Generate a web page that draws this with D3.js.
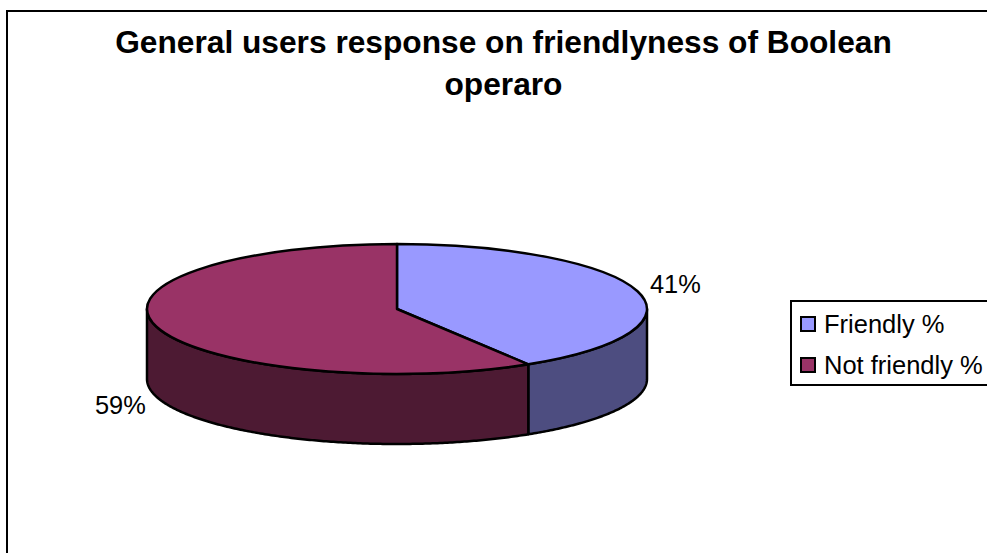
<!DOCTYPE html>
<html>
<head>
<meta charset="utf-8">
<script src="https://d3js.org/d3.v7.min.js"></script>
<style>
html, body { margin: 0; padding: 0; background: #fff; overflow: hidden; }
text { font-family: "Liberation Sans", Arial, sans-serif; fill: #000; }
</style>
</head>
<body>
<script>
const categories = ['Friendly %', 'Not friendly %']
const values = [41.2, 58.8]
const percentLabels = ['41%', '59%']
const titleLines = ['General users response on friendlyness of Boolean', 'operaro']
const topColors = ['#9999ff', '#993366']
const sideColors = ['#4d4d80', '#4d1a33']

let width = 987
let height = 553
let cx = 397
let cy = 309
let rx = 250
let ry = 65
let depth = 70
let lineW = 2.5

let svg = d3.select('body').append('svg')
    .attr('width', width)
    .attr('height', height)
    .style('display', 'block')

// chart frame, runs off the right and bottom of the picture
svg.append('rect')
    .attr('x', 7).attr('y', 11)
    .attr('width', width + 20).attr('height', height + 20)
    .attr('fill', '#fff').attr('stroke', '#000').attr('stroke-width', 2)

// title
svg.append('g').selectAll('text')
    .data(titleLines)
    .enter().append('text')
    .attr('x', 503.5)
    .attr('y', (d, i) => 53 + i * 42)
    .attr('text-anchor', 'middle')
    .attr('font-size', 31.7)
    .attr('font-weight', 'bold')
    .text(d => d)

let slices = d3.pie().sort(null)(values)

let ex = a => cx + rx * Math.sin(a)
let ey = a => cy - ry * Math.cos(a)

// side walls, only the part of a slice facing the viewer
let wall = d3.area()
    .x(a => ex(a))
    .y0(a => ey(a))
    .y1(a => ey(a) + depth)

let wallAngles = (d) => {
    let start = Math.max(d.startAngle, Math.PI / 2)
    let end = Math.min(d.endAngle, Math.PI * 1.5)
    return d3.range(start, end, 0.01).concat([end])
}

svg.append('g').selectAll('path')
    .data(slices)
    .enter().append('path')
    .attr('d', d => wall(wallAngles(d)))
    .attr('fill', (d, i) => sideColors[i])
    .attr('stroke', '#000')
    .attr('stroke-width', lineW)
    .attr('stroke-linejoin', 'round')

// top face, circle arcs squashed into an ellipse
let arc = d3.arc().innerRadius(0).outerRadius(rx)

svg.append('g')
    .attr('transform', `translate(${cx},${cy}) scale(1,${ry / rx})`)
    .selectAll('path')
    .data(slices)
    .enter().append('path')
    .attr('d', arc)
    .attr('fill', (d, i) => topColors[i])
    .attr('stroke', '#000')
    .attr('stroke-width', lineW)
    .attr('stroke-linejoin', 'round')
    .attr('vector-effect', 'non-scaling-stroke')

// percent labels
let labelPos = [[650, 293], [95, 414]]
svg.append('g').selectAll('text')
    .data(percentLabels)
    .enter().append('text')
    .attr('x', (d, i) => labelPos[i][0])
    .attr('y', (d, i) => labelPos[i][1])
    .attr('font-size', 25.4)
    .text(d => d)

// legend
let legend = svg.append('g')
legend.append('rect')
    .attr('x', 791).attr('y', 301)
    .attr('width', 220).attr('height', 84)
    .attr('fill', '#fff').attr('stroke', '#000').attr('stroke-width', 2)

let rows = legend.selectAll('g')
    .data(categories)
    .enter().append('g')
    .attr('transform', (d, i) => `translate(801,${317 + i * 41})`)

rows.append('rect')
    .attr('width', 14).attr('height', 14)
    .attr('fill', (d, i) => topColors[i])
    .attr('stroke', '#000').attr('stroke-width', 2)

rows.append('text')
    .attr('x', 23).attr('y', 16)
    .attr('font-size', 25.5)
    .text(d => d)
</script>
</body>
</html>
